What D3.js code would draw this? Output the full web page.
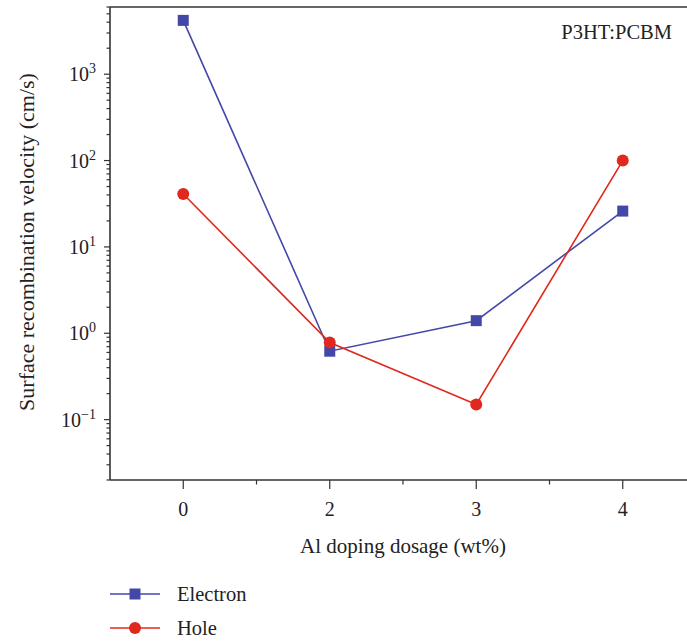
<!DOCTYPE html>
<html>
<head>
<meta charset="utf-8">
<script src="https://cdn.jsdelivr.net/npm/d3@7"></script>
<style>
  body { margin: 0; background: #fff; }
  svg { display: block; overflow: hidden; }
  text { font-family: "Liberation Serif", "DejaVu Serif", serif; fill: #222; }
</style>
</head>
<body>
<svg id="chart"></svg>
<script>
// data
var dosages = ["0", "2", "3", "4"];
var electron = [4200, 0.62, 1.4, 26];
var hole = [41, 0.78, 0.15, 100];
var seriesNames = ["Electron", "Hole"];
var seriesColors = ["#4348a8", "#e0281e"];
var yDomain = [0.02, 6000];
var yLabelPowers = [-1, 0, 1, 2, 3];

drawChart();

function drawChart(){
  var width = 687, height = 641;
  var pLeft = 110, pRight = 696, pTop = 7, pBottom = 480;

  var svg = d3.select("svg#chart")
              .attr("width", width)
              .attr("height", height);

  var x = d3.scalePoint()
            .domain(dosages)
            .range([pLeft, pRight])
            .padding(0.5);

  var y = d3.scaleLog()
            .domain(yDomain)
            .range([pBottom, pTop]);

  // frame (top line; the right side is cut by the page edge)
  svg.append("line")
     .attr("x1", pLeft).attr("x2", pRight)
     .attr("y1", pTop).attr("y2", pTop)
     .attr("stroke", "#333").attr("stroke-width", 1.6);

  // y axis with log minor ticks
  var yTicks = y.ticks().filter(function(d){ return d >= yDomain[0] && d <= yDomain[1]; });
  svg.append("line")
     .attr("x1", pLeft).attr("x2", pLeft)
     .attr("y1", pTop).attr("y2", pBottom)
     .attr("stroke", "#333").attr("stroke-width", 1.6);

  svg.selectAll("line.ytick")
     .data(yTicks)
     .enter()
     .append("line")
     .attr("class", "ytick")
     .attr("x1", function(d){
       var p = Math.log10(d);
       return Math.abs(p - Math.round(p)) < 1e-9 ? pLeft - 6 : pLeft - 3.5;
     })
     .attr("x2", pLeft)
     .attr("y1", function(d){ return y(d); })
     .attr("y2", function(d){ return y(d); })
     .attr("stroke", "#333").attr("stroke-width", 1.2);

  var yLab = svg.selectAll("text.ylab")
     .data(yLabelPowers)
     .enter()
     .append("text")
     .attr("class", "ylab")
     .attr("x", 96)
     .attr("y", function(d){ return y(Math.pow(10, d)) + 7; })
     .attr("text-anchor", "end")
     .attr("font-size", 20);
  yLab.append("tspan").text("10");
  yLab.append("tspan")
      .attr("dy", -8)
      .attr("font-size", 14)
      .text(function(d){ return d < 0 ? "\u2212" + (-d) : d; });

  // x axis
  svg.append("line")
     .attr("x1", pLeft).attr("x2", pRight)
     .attr("y1", pBottom).attr("y2", pBottom)
     .attr("stroke", "#333").attr("stroke-width", 1.6);

  var step = x.step();
  svg.selectAll("line.xtick")
     .data(dosages)
     .enter()
     .append("line")
     .attr("class", "xtick")
     .attr("x1", function(d){ return x(d); })
     .attr("x2", function(d){ return x(d); })
     .attr("y1", pBottom).attr("y2", pBottom + 9)
     .attr("stroke", "#333").attr("stroke-width", 1.2);

  svg.selectAll("line.xminor")
     .data(dosages.slice(0, -1))
     .enter()
     .append("line")
     .attr("class", "xminor")
     .attr("x1", function(d){ return x(d) + step / 2; })
     .attr("x2", function(d){ return x(d) + step / 2; })
     .attr("y1", pBottom).attr("y2", pBottom + 4.5)
     .attr("stroke", "#333").attr("stroke-width", 1.2);

  svg.selectAll("text.xlab")
     .data(dosages)
     .enter()
     .append("text")
     .attr("class", "xlab")
     .attr("x", function(d){ return x(d); })
     .attr("y", 516)
     .attr("text-anchor", "middle")
     .attr("font-size", 20)
     .text(function(d){ return d; });

  // axis titles
  svg.append("text")
     .attr("x", 403)
     .attr("y", 553)
     .attr("text-anchor", "middle")
     .attr("font-size", 21)
     .text("Al doping dosage (wt%)");

  svg.append("text")
     .attr("transform", "translate(34,242) rotate(-90)")
     .attr("text-anchor", "middle")
     .attr("font-size", 22)
     .text("Surface recombination velocity (cm/s)");

  svg.append("text")
     .attr("x", 672)
     .attr("y", 39)
     .attr("text-anchor", "end")
     .attr("font-size", 20.5)
     .text("P3HT:PCBM");

  // series
  var series = [electron, hole];
  var line = d3.line()
               .x(function(d, i){ return x(dosages[i]); })
               .y(function(d){ return y(d); });

  series.forEach(function(vals, s){
    svg.append("path")
       .datum(vals)
       .attr("d", line)
       .attr("fill", "none")
       .attr("stroke", seriesColors[s])
       .attr("stroke-width", 1.6);
  });

  series.forEach(function(vals, s){
    var g = svg.append("g");
    if (s === 0) {
      g.selectAll("rect")
       .data(vals)
       .enter()
       .append("rect")
       .attr("x", function(d, i){ return x(dosages[i]) - 5.5; })
       .attr("y", function(d){ return y(d) - 5.5; })
       .attr("width", 11).attr("height", 11)
       .attr("fill", seriesColors[s]);
    } else {
      g.selectAll("circle")
       .data(vals)
       .enter()
       .append("circle")
       .attr("cx", function(d, i){ return x(dosages[i]); })
       .attr("cy", function(d){ return y(d); })
       .attr("r", 6)
       .attr("fill", seriesColors[s]);
    }
  });

  // legend
  var legendY = [594, 628];
  var leg = svg.selectAll("g.legend")
               .data(seriesNames)
               .enter()
               .append("g")
               .attr("class", "legend");
  leg.append("line")
     .attr("x1", 110).attr("x2", 160)
     .attr("y1", function(d, i){ return legendY[i]; })
     .attr("y2", function(d, i){ return legendY[i]; })
     .attr("stroke", function(d, i){ return seriesColors[i]; })
     .attr("stroke-width", 1.6);
  leg.each(function(d, i){
    var g = d3.select(this);
    if (i === 0) {
      g.append("rect")
       .attr("x", 135 - 5.5).attr("y", legendY[i] - 5.5)
       .attr("width", 11).attr("height", 11)
       .attr("fill", seriesColors[i]);
    } else {
      g.append("circle")
       .attr("cx", 135).attr("cy", legendY[i])
       .attr("r", 6)
       .attr("fill", seriesColors[i]);
    }
  });
  leg.append("text")
     .attr("x", 177)
     .attr("y", function(d, i){ return legendY[i] + 7; })
     .attr("font-size", 20.5)
     .text(function(d){ return d; });
}
</script>
</body>
</html>
